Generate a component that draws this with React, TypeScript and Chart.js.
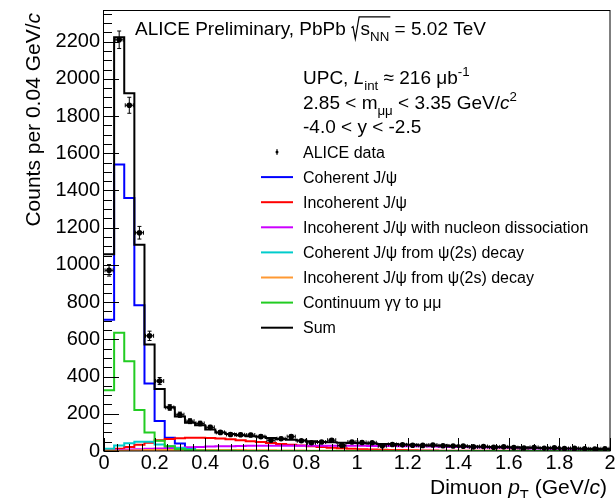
import React, { useEffect, useRef } from 'react';
import { Chart, registerables } from 'chart.js';
Chart.register(...registerables);

// ---------------- data (counts per 0.04 GeV/c bin, pT from 0 to 2 GeV/c) ----------------
const BIN_WIDTH = 0.04;
const N_BINS = 50;
const binEdges = Array.from({ length: N_BINS + 1 }, (_, i) => +(i * BIN_WIDTH).toFixed(2));
const binCenters = Array.from({ length: N_BINS }, (_, i) => +((i + 0.5) * BIN_WIDTH).toFixed(3));

const dataCounts = [971, 2210, 1858, 1173, 619, 376, 234, 195, 160, 148, 127, 100, 89, 87, 86, 77, 58, 66, 77, 55, 44, 48, 58, 30, 48, 46, 44, 28, 35, 33, 31, 30, 32, 28, 27, 26, 22, 24, 20, 22, 18, 16, 19, 15, 17, 13, 14, 12, 11, 12];
const dataErrors = [31, 47, 43, 34, 25, 19, 15, 14, 13, 12, 11, 10, 9, 9, 9, 9, 8, 8, 9, 7, 7, 7, 8, 5, 7, 7, 7, 5, 6, 6, 6, 5, 6, 5, 5, 5, 5, 5, 4, 5, 4, 4, 4, 4, 4, 4, 4, 3, 3, 3];
const sumModel = [1057, 2223, 1922, 1109, 572, 333, 235, 185, 152, 138, 116, 99, 91, 84, 79, 76, 70, 65, 60, 56, 52, 49, 47, 45, 43, 41, 40, 38, 37, 35, 33, 31, 30, 29, 27, 26, 24, 23, 22, 21, 20, 19, 17, 16, 15, 14, 13, 12, 11, 10];
const coherentJpsi = [705, 1540, 1359, 783, 363, 161, 71, 40, 12, 4, 3, 2, 1, 1, 0, 0, 0, 0, 0, 0, 0, 0, 0, 0, 0, 0, 0, 0, 0, 0, 0, 0, 0, 0, 0, 0, 0, 0, 0, 0, 0, 0, 0, 0, 0, 0, 0, 0, 0, 0];
const incoherentJpsi = [4, 12, 22, 33, 45, 58, 65, 69, 71, 71, 70, 67, 63, 58, 53, 48, 43, 38, 33, 29, 25, 21, 18, 15, 12, 10, 8, 7, 6, 5, 4, 3, 3, 2, 2, 2, 1, 1, 1, 1, 1, 1, 0, 0, 0, 0, 0, 0, 0, 0];
const incoherentDissJpsi = [3, 5, 8, 10, 12, 14, 16, 18, 20, 22, 24, 25, 26, 27, 28, 28, 28, 28, 28, 28, 28, 28, 28, 28, 28, 28, 27, 27, 27, 26, 26, 25, 24, 23, 22, 21, 20, 19, 18, 17, 16, 15, 14, 13, 12, 12, 11, 10, 10, 9];
const coherentFeedDown = [12, 30, 42, 50, 50, 35, 25, 16, 10, 6, 4, 2, 1, 1, 0, 0, 0, 0, 0, 0, 0, 0, 0, 0, 0, 0, 0, 0, 0, 0, 0, 0, 0, 0, 0, 0, 0, 0, 0, 0, 0, 0, 0, 0, 0, 0, 0, 0, 0, 0];
const incoherentFeedDown = [1, 2, 3, 4, 5, 5, 6, 6, 6, 6, 6, 5, 5, 5, 4, 4, 4, 3, 3, 3, 2, 2, 2, 2, 1, 1, 1, 1, 1, 1, 1, 0, 0, 0, 0, 0, 0, 0, 0, 0, 0, 0, 0, 0, 0, 0, 0, 0, 0, 0];
const continuumGG = [327, 635, 483, 220, 100, 55, 25, 10, 5, 3, 2, 1, 1, 0, 0, 0, 0, 0, 0, 0, 0, 0, 0, 0, 0, 0, 0, 0, 0, 0, 0, 0, 0, 0, 0, 0, 0, 0, 0, 0, 0, 0, 0, 0, 0, 0, 0, 0, 0, 0];

const xTickValues = [0, 0.2, 0.4, 0.6, 0.8, 1, 1.2, 1.4, 1.6, 1.8, 2];
const yTickValues = [0, 200, 400, 600, 800, 1000, 1200, 1400, 1600, 1800, 2000, 2200];

const X_MIN = 0;
const X_MAX = 2;
const Y_MIN = 0;
const Y_MAX = 2370;
const X_MINOR = 0.05;
const Y_MINOR = 50;

// ---------------- styles ----------------
const FONT = '"Liberation Sans", Arial, Helvetica, sans-serif';
const C_BLUE = '#0000ff';
const C_RED = '#ff0000';
const C_VIOLET = '#cc00ff';
const C_CYAN = '#00cccc';
const C_ORANGE = '#ff9933';
const C_GREEN = '#22cc22';
const C_BLACK = '#000000';

type Seg = { t?: string; sub?: boolean; sup?: boolean; it?: boolean; over?: boolean; rad?: boolean };

const TITLE: Seg[] = [{ t: 'ALICE Preliminary, PbPb ' }, { rad: true }, { t: 's', over: true }, { t: 'NN', sub: true, over: true }, { t: ' = 5.02 TeV' }];
const INFO_LINES: Seg[][] = [
  [{ t: 'UPC, ' }, { t: 'L', it: true }, { t: 'int', sub: true }, { t: ' \u2248 216 \u03bcb' }, { t: '-1', sup: true }],
  [{ t: '2.85 < m' }, { t: '\u03bc\u03bc', sub: true }, { t: ' < 3.35 GeV/' }, { t: 'c', it: true }, { t: '2', sup: true }],
  [{ t: '-4.0 < y < -2.5' }],
];
const X_TITLE: Seg[] = [{ t: 'Dimuon ' }, { t: 'p', it: true }, { t: 'T', sub: true }, { t: ' (GeV/' }, { t: 'c', it: true }, { t: ')' }];
const Y_TITLE: Seg[] = [{ t: 'Counts per 0.04 GeV/' }, { t: 'c', it: true }];

const LEGEND: { label: string; color: string | null }[] = [
  { label: 'ALICE data', color: null },
  { label: 'Coherent J/\u03c8', color: C_BLUE },
  { label: 'Incoherent J/\u03c8', color: C_RED },
  { label: 'Incoherent J/\u03c8 with nucleon dissociation', color: C_VIOLET },
  { label: 'Coherent J/\u03c8 from \u03c8(2s) decay', color: C_CYAN },
  { label: 'Incoherent J/\u03c8 from \u03c8(2s) decay', color: C_ORANGE },
  { label: 'Continuum \u03b3\u03b3 to \u03bc\u03bc', color: C_GREEN },
  { label: 'Sum', color: C_BLACK },
];

// ---------------- rich text helpers ----------------
function segFont(s: Seg, size: number) {
  const sz = s.sub || s.sup ? size * 0.7 : size;
  return `${s.it ? 'italic ' : ''}${sz}px ${FONT}`;
}
function segWidth(ctx: CanvasRenderingContext2D, s: Seg, size: number) {
  if (s.rad) return size * 0.5;
  ctx.font = segFont(s, size);
  return ctx.measureText(s.t || '').width;
}
function richWidth(ctx: CanvasRenderingContext2D, segs: Seg[], size: number) {
  return segs.reduce((w, s) => w + segWidth(ctx, s, size), 0);
}
function drawRich(ctx: CanvasRenderingContext2D, segs: Seg[], x: number, base: number, size: number, align: 'left' | 'right' = 'left') {
  const w = richWidth(ctx, segs, size);
  let cx = align === 'right' ? x - w : x;
  ctx.textAlign = 'left';
  ctx.textBaseline = 'alphabetic';
  ctx.fillStyle = '#000';
  let radX: number | null = null;
  let overEnd = 0;
  for (const s of segs) {
    const sw = segWidth(ctx, s, size);
    if (s.rad) {
      radX = cx;
    } else {
      ctx.font = segFont(s, size);
      const dy = s.sub ? size * 0.3 : s.sup ? -size * 0.42 : 0;
      ctx.fillText(s.t || '', cx, base + dy);
      if (s.over) overEnd = cx + sw;
    }
    cx += sw;
  }
  if (radX !== null) {
    const top = base - size * 0.95;
    ctx.save();
    ctx.strokeStyle = '#000';
    ctx.lineWidth = 1.2;
    ctx.beginPath();
    ctx.moveTo(radX + size * 0.02, base - size * 0.38);
    ctx.lineTo(radX + size * 0.1, base - size * 0.44);
    ctx.lineTo(radX + size * 0.22, base + size * 0.2);
    ctx.lineTo(radX + size * 0.42, top);
    ctx.lineTo(overEnd + 1, top);
    ctx.stroke();
    ctx.restore();
  }
}

// ---------------- ROOT-like decorations plugin ----------------
const rootDecor = {
  id: 'rootDecor',
  afterDatasetsDraw(chart: any) {
    const { ctx, scales } = chart;
    const xs = scales.x;
    const ys = scales.y;
    ctx.save();
    ctx.strokeStyle = '#000';
    ctx.lineWidth = 1;
    for (let i = 0; i < dataCounts.length; i++) {
      const px = xs.getPixelForValue(binCenters[i]);
      const py = ys.getPixelForValue(dataCounts[i]);
      const pyLo = ys.getPixelForValue(dataCounts[i] - dataErrors[i]);
      const pyHi = ys.getPixelForValue(dataCounts[i] + dataErrors[i]);
      const pxL = xs.getPixelForValue(binCenters[i] - BIN_WIDTH / 2 + 0.004);
      const pxR = xs.getPixelForValue(binCenters[i] + BIN_WIDTH / 2 - 0.004);
      ctx.beginPath();
      ctx.moveTo(px, pyLo);
      ctx.lineTo(px, pyHi);
      ctx.moveTo(pxL, py);
      ctx.lineTo(pxR, py);
      ctx.moveTo(px - 2, pyLo);
      ctx.lineTo(px + 2, pyLo);
      ctx.moveTo(px - 2, pyHi);
      ctx.lineTo(px + 2, pyHi);
      ctx.moveTo(pxL, py - 2);
      ctx.lineTo(pxL, py + 2);
      ctx.moveTo(pxR, py - 2);
      ctx.lineTo(pxR, py + 2);
      ctx.stroke();
    }
    ctx.restore();
  },
  afterDraw(chart: any) {
    const { ctx, chartArea: a, scales } = chart;
    const xs = scales.x;
    const ys = scales.y;
    ctx.save();
    ctx.strokeStyle = '#000';
    ctx.lineWidth = 1;
    ctx.strokeRect(Math.round(a.left) - 0.5, Math.round(a.top) + 0.5, Math.round(a.right - a.left) + 0.5, Math.round(a.bottom - a.top) - 0.5);
    ctx.beginPath();
    const nY = Math.floor((Y_MAX - Y_MIN) / Y_MINOR);
    for (let k = 0; k <= nY; k++) {
      const v = Y_MIN + k * Y_MINOR;
      const py = Math.round(ys.getPixelForValue(v)) + 0.5;
      const len = yTickValues.includes(v) ? 15 : 8;
      ctx.moveTo(a.left, py);
      ctx.lineTo(a.left + len, py);
    }
    const nX = Math.round((X_MAX - X_MIN) / X_MINOR);
    for (let k = 0; k <= nX; k++) {
      const v = +(X_MIN + k * X_MINOR).toFixed(2);
      const px = Math.round(xs.getPixelForValue(v)) + 0.5;
      const len = xTickValues.includes(v) ? 13 : 7;
      ctx.moveTo(px, a.bottom);
      ctx.lineTo(px, a.bottom - len);
    }
    ctx.stroke();

    drawRich(ctx, TITLE, 135, 35, 19);
    const infoBase = [84, 109, 133];
    INFO_LINES.forEach((segs, i) => drawRich(ctx, segs, 303, infoBase[i], 19));
    const lx0 = 261, lx1 = 293, tx = 303, ly0 = 152, ldy = 25.1, lsz = 16;
    LEGEND.forEach((e, i) => {
      const yc = ly0 + i * ldy;
      if (e.color) {
        ctx.strokeStyle = e.color;
        ctx.lineWidth = 2;
        ctx.beginPath();
        ctx.moveTo(lx0, yc);
        ctx.lineTo(lx1, yc);
        ctx.stroke();
      } else {
        const mx = (lx0 + lx1) / 2;
        ctx.fillStyle = '#000';
        ctx.beginPath();
        ctx.arc(mx, yc, 1.5, 0, Math.PI * 2);
        ctx.fill();
        ctx.strokeStyle = '#000';
        ctx.lineWidth = 1;
        ctx.beginPath();
        ctx.moveTo(mx, yc - 3);
        ctx.lineTo(mx, yc + 3);
        ctx.stroke();
      }
      drawRich(ctx, [{ t: e.label }], tx, yc + lsz * 0.36, lsz);
    });
    drawRich(ctx, X_TITLE, 607, 494, 21, 'right');
    ctx.save();
    ctx.translate(32, 13);
    ctx.rotate(-Math.PI / 2);
    drawRich(ctx, Y_TITLE, 0, 21 * 0.36, 21, 'right');
    ctx.restore();
    ctx.restore();
  },
};

function histData(values: number[]) {
  return binEdges.map((e, i) => ({ x: e, y: values[Math.min(i, values.length - 1)] }));
}

function histDataset(label: string, values: number[], color: string, order: number) {
  return {
    type: 'line' as const,
    label,
    data: histData(values),
    borderColor: color,
    borderWidth: 2,
    pointRadius: 0,
    fill: false,
    stepped: true,
    tension: 0,
    order,
  };
}

export default function App() {
  const canvasRef = useRef<HTMLCanvasElement | null>(null);
  useEffect(() => {
    document.body.style.margin = '0';
    const canvas = canvasRef.current;
    if (!canvas) return;
    const chart = new Chart(canvas, {
      type: 'line',
      data: {
        datasets: [
          {
            type: 'line',
            label: 'ALICE data',
            data: binCenters.map((x, i) => ({ x, y: dataCounts[i] })),
            showLine: false,
            pointRadius: 2.8,
            pointBackgroundColor: '#000',
            pointBorderColor: '#000',
            pointBorderWidth: 0,
            order: 0,
          } as any,
          histDataset('Sum', sumModel, C_BLACK, 1),
          histDataset('Continuum', continuumGG, C_GREEN, 2),
          histDataset('Incoherent from psi(2s)', incoherentFeedDown, C_ORANGE, 3),
          histDataset('Coherent from psi(2s)', coherentFeedDown, C_CYAN, 4),
          histDataset('Incoherent with dissociation', incoherentDissJpsi, C_VIOLET, 5),
          histDataset('Incoherent', incoherentJpsi, C_RED, 6),
          histDataset('Coherent', coherentJpsi, C_BLUE, 7),
        ],
      },
      options: {
        animation: false,
        responsive: true,
        maintainAspectRatio: false,
        devicePixelRatio: 1,
        events: [],
        layout: { padding: { top: 10, right: 5, left: 0, bottom: 0 } },
        plugins: { legend: { display: false }, tooltip: { enabled: false } },
        scales: {
          x: {
            type: 'linear',
            min: X_MIN,
            max: X_MAX,
            border: { display: false },
            grid: { display: false, drawTicks: false },
            afterBuildTicks: (s: any) => {
              s.ticks = xTickValues.map((v) => ({ value: v }));
            },
            ticks: {
              autoSkip: false,
              maxRotation: 0,
              padding: 0,
              color: '#000',
              font: { family: FONT, size: 20 },
              callback: (v: any) => String(+Number(v).toFixed(2)),
            },
            afterFit: (s: any) => {
              s.height = 47;
              s.paddingLeft = 0;
              s.paddingRight = 0;
            },
          },
          y: {
            type: 'linear',
            min: Y_MIN,
            max: Y_MAX,
            border: { display: false },
            grid: { display: false, drawTicks: false },
            afterBuildTicks: (s: any) => {
              s.ticks = yTickValues.map((v) => ({ value: v }));
            },
            ticks: {
              autoSkip: false,
              padding: 4,
              color: '#000',
              font: { family: FONT, size: 20 },
              callback: (v: any) => String(Math.round(Number(v))),
            },
            afterFit: (s: any) => {
              s.width = 104;
              s.paddingTop = 0;
              s.paddingBottom = 0;
            },
          },
        },
      } as any,
      plugins: [rootDecor],
    });
    return () => chart.destroy();
  }, []);
  return (
    <div style={{ width: 615, height: 498, position: 'relative' }}>
      <canvas ref={canvasRef} />
    </div>
  );
}
